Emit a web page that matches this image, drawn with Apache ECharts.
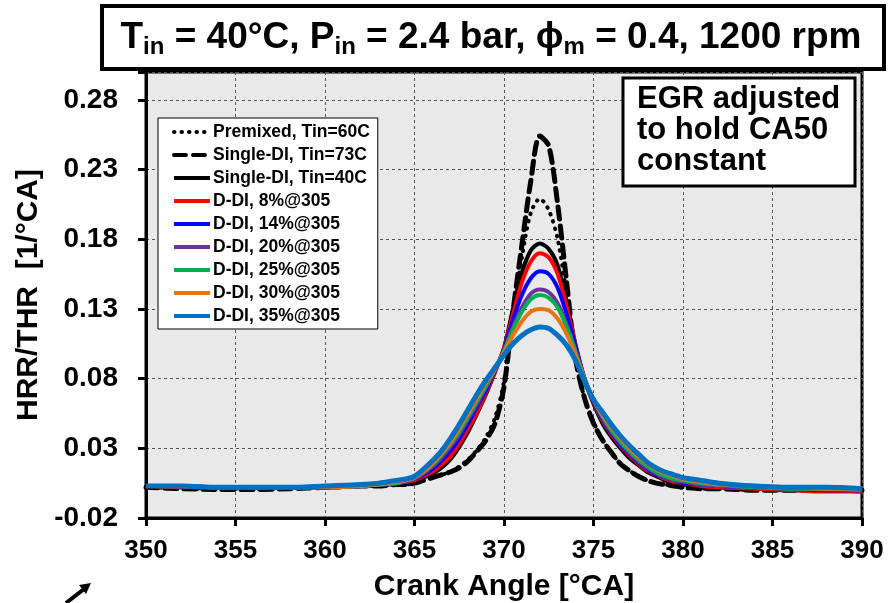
<!DOCTYPE html>
<html>
<head>
<meta charset="utf-8">
<script src="https://cdn.jsdelivr.net/npm/echarts@6/dist/echarts.min.js"></script>
<style>
html, body { margin: 0; padding: 0; background: #fff; }
#chart { width: 896px; height: 603px; }
</style>
</head>
<body>
<div id="chart"></div>
<script>
// crank angle samples (deg CA)
const crankAngle = [350, 352, 354, 356, 358, 360, 362, 363, 364,
	364.5, 365, 365.5, 366, 366.5, 367, 367.5, 368, 368.5, 369, 369.5, 370, 370.5, 371, 371.5, 372,
	372.5, 373, 373.5, 374, 374.5, 375, 375.5, 376, 376.5, 377, 377.5, 378, 378.5, 379, 379.5, 380,
	381, 382, 384, 386, 388, 390]

// HRR/THR [1/CA]
const premixed60 = [0.002, 0.0015, 0.001, 0.001, 0.0015, 0.002, 0.003, 0.003, 0.004,
	0.004, 0.005, 0.007, 0.009, 0.011, 0.013, 0.017, 0.022, 0.029, 0.038, 0.052, 0.078, 0.124, 0.167, 0.199, 0.209,
	0.201, 0.180, 0.140, 0.094, 0.066, 0.049, 0.036, 0.027, 0.019, 0.014, 0.010, 0.007, 0.005, 0.004, 0.003, 0.002,
	0.001, 0.001, 0.0, 0.0, 0.0, 0.0]
const singleDI73 = [0.002, 0.001, 0.0005, 0.0005, 0.001, 0.002, 0.003, 0.003, 0.004,
	0.004, 0.005, 0.007, 0.009, 0.011, 0.013, 0.016, 0.021, 0.028, 0.036, 0.048, 0.074, 0.128, 0.176, 0.222, 0.254,
	0.247, 0.205, 0.149, 0.094, 0.066, 0.048, 0.036, 0.027, 0.019, 0.014, 0.010, 0.007, 0.005, 0.004, 0.003, 0.002,
	0.001, 0.001, 0.0, 0.0, 0.0, 0.0]
const singleDI40 = [0.003, 0.002, 0.002, 0.002, 0.002, 0.002, 0.003, 0.004, 0.004,
	0.005, 0.007, 0.009, 0.012, 0.016, 0.022, 0.031, 0.042, 0.055, 0.069, 0.085, 0.102, 0.130, 0.156, 0.172, 0.177,
	0.173, 0.161, 0.135, 0.104, 0.079, 0.062, 0.048, 0.038, 0.030, 0.023, 0.018, 0.013, 0.010, 0.007, 0.005, 0.004,
	0.003, 0.002, 0.001, 0.0, 0.0, -0.001]
const ddi8 = [0.003, 0.002, 0.002, 0.002, 0.002, 0.002, 0.003, 0.004, 0.005,
	0.006, 0.007, 0.010, 0.013, 0.018, 0.024, 0.033, 0.044, 0.056, 0.070, 0.085, 0.102, 0.126, 0.149, 0.164, 0.170,
	0.167, 0.155, 0.132, 0.104, 0.080, 0.063, 0.050, 0.040, 0.032, 0.025, 0.019, 0.014, 0.011, 0.008, 0.006, 0.005,
	0.003, 0.002, 0.001, 0.0, -0.001, -0.001]
const ddi14 = [0.003, 0.003, 0.002, 0.002, 0.002, 0.002, 0.003, 0.004, 0.005,
	0.006, 0.008, 0.011, 0.015, 0.021, 0.028, 0.037, 0.048, 0.060, 0.072, 0.086, 0.101, 0.122, 0.140, 0.152, 0.157,
	0.155, 0.145, 0.126, 0.103, 0.080, 0.064, 0.051, 0.041, 0.033, 0.026, 0.020, 0.015, 0.011, 0.009, 0.007, 0.005,
	0.004, 0.003, 0.002, 0.001, 0.0, 0.0]
const ddi20 = [0.003, 0.003, 0.002, 0.002, 0.002, 0.002, 0.003, 0.004, 0.005,
	0.006, 0.008, 0.012, 0.017, 0.023, 0.031, 0.040, 0.051, 0.062, 0.074, 0.086, 0.100, 0.117, 0.131, 0.141, 0.144,
	0.142, 0.134, 0.119, 0.100, 0.080, 0.065, 0.052, 0.042, 0.034, 0.027, 0.021, 0.016, 0.012, 0.009, 0.007, 0.006,
	0.004, 0.003, 0.002, 0.001, 0.0005, 0.0]
const ddi25 = [0.003, 0.003, 0.002, 0.002, 0.002, 0.002, 0.003, 0.004, 0.005,
	0.007, 0.009, 0.013, 0.018, 0.025, 0.033, 0.042, 0.053, 0.064, 0.075, 0.087, 0.100, 0.115, 0.128, 0.137, 0.140,
	0.138, 0.131, 0.117, 0.099, 0.080, 0.065, 0.053, 0.043, 0.035, 0.028, 0.022, 0.017, 0.013, 0.010, 0.008, 0.007,
	0.005, 0.004, 0.002, 0.001, 0.001, 0.0]
const ddi30 = [0.003, 0.003, 0.002, 0.002, 0.002, 0.002, 0.003, 0.004, 0.006,
	0.007, 0.009, 0.013, 0.019, 0.026, 0.034, 0.044, 0.055, 0.066, 0.077, 0.087, 0.099, 0.111, 0.121, 0.128, 0.130,
	0.129, 0.123, 0.112, 0.097, 0.079, 0.065, 0.054, 0.045, 0.037, 0.030, 0.024, 0.019, 0.015, 0.012, 0.010, 0.008,
	0.006, 0.004, 0.003, 0.002, 0.001, 0.001]
const ddi35 = [0.003, 0.003, 0.002, 0.002, 0.002, 0.003, 0.004, 0.005, 0.007,
	0.008, 0.010, 0.015, 0.021, 0.028, 0.037, 0.047, 0.058, 0.069, 0.079, 0.088, 0.097, 0.105, 0.111, 0.115, 0.117,
	0.116, 0.111, 0.104, 0.093, 0.078, 0.065, 0.056, 0.047, 0.039, 0.032, 0.026, 0.020, 0.016, 0.013, 0.011, 0.009,
	0.007, 0.005, 0.003, 0.002, 0.002, 0.001]

const seriesNames = ['Premixed, Tin=60C', 'Single-DI, Tin=73C', 'Single-DI, Tin=40C',
	'D-DI, 8%@305', 'D-DI, 14%@305', 'D-DI, 20%@305', 'D-DI, 25%@305', 'D-DI, 30%@305', 'D-DI, 35%@305']

// y axis runs -0.02 .. 0.30 with labels every 0.05 from -0.02,
// so values are plotted shifted by +0.02 to keep the ticks on the gridlines
const Y_SHIFT = 0.02

const FONT = "'Liberation Sans', Arial, sans-serif"

function makeLine(name, values, color, width, type, cap) {
	return {
		name: name,
		type: 'line',
		data: crankAngle.map((x, i) => [x, values[i] + Y_SHIFT]),
		smooth: 0.3,
		symbol: 'none',
		showSymbol: false,
		lineStyle: { color: color, width: width, type: type || 'solid', cap: cap || 'butt' },
		itemStyle: { color: color },
		animation: false
	}
}

const chart = echarts.init(document.getElementById('chart'))

chart.setOption({
	animation: false,
	grid: {
		left: 146, right: 34, top: 72, bottom: 85,
		outerBoundsMode: 'none',
		containLabel: false,
		show: true,
		backgroundColor: '#e9e9e9',
		borderColor: '#000',
		borderWidth: 3
	},
	xAxis: {
		type: 'value',
		min: 350, max: 390, interval: 5,
		name: 'Crank Angle [°CA]',
		nameLocation: 'middle',
		nameGap: 54,
		nameTextStyle: { fontSize: 30, fontWeight: 'bold', color: '#000', fontFamily: FONT },
		axisLine: { lineStyle: { color: '#000', width: 3 } },
		axisTick: { inside: false, length: 8, lineStyle: { color: '#000', width: 3 } },
		axisLabel: { fontSize: 26, fontWeight: 'bold', color: '#000', margin: 20, fontFamily: FONT },
		splitLine: { show: true, lineStyle: { color: '#555', width: 1, type: [3, 3] } }
	},
	yAxis: {
		type: 'value',
		min: 0, max: 0.32, interval: 0.05,
		name: 'HRR/THR  [1/°CA]',
		nameLocation: 'middle',
		nameGap: 89,
		nameRotate: 90,
		nameTextStyle: { fontSize: 30, fontWeight: 'bold', color: '#000', fontFamily: FONT },
		axisLine: { show: true, lineStyle: { color: '#000', width: 3 } },
		axisTick: { show: true, inside: false, length: 8, lineStyle: { color: '#000', width: 3 } },
		axisLabel: {
			fontSize: 28, fontWeight: 'bold', color: '#000', margin: 28, fontFamily: FONT,
			formatter: v => v > 0.305 ? '' : (v - Y_SHIFT).toFixed(2)
		},
		splitLine: { show: true, lineStyle: { color: '#555', width: 1, type: [3, 3] } }
	},
	legend: {
		orient: 'vertical',
		left: 158, top: 118,
		backgroundColor: '#fff',
		borderColor: '#000',
		borderWidth: 1,
		padding: [5, 8, 4, 14],
		itemGap: 5,
		itemWidth: 36,
		itemHeight: 16,
		itemStyle: { opacity: 0 },
		lineStyle: { width: 4 },
		textStyle: { fontSize: 17.5, fontWeight: 'bold', color: '#000', fontFamily: FONT, padding: [0, 0, 0, -2] },
		data: seriesNames
	},
	series: [
		makeLine(seriesNames[0], premixed60, '#000', 4, [0.5, 7], 'round'),
		makeLine(seriesNames[1], singleDI73, '#000', 5, [12, 7], 'round'),
		makeLine(seriesNames[2], singleDI40, '#000', 4),
		makeLine(seriesNames[3], ddi8, '#ff0000', 4),
		makeLine(seriesNames[4], ddi14, '#0000ff', 4),
		makeLine(seriesNames[5], ddi20, '#7030a0', 4),
		makeLine(seriesNames[6], ddi25, '#00b050', 4),
		makeLine(seriesNames[7], ddi30, '#e8750f', 4),
		makeLine(seriesNames[8], ddi35, '#0070c0', 5)
	],
	graphic: [
		{
			type: 'rect', z: 100,
			shape: { x: 102, y: 6, width: 782, height: 63 },
			style: { fill: '#fff', stroke: '#000', lineWidth: 4 }
		},
		{
			type: 'text', z: 101,
			x: 491, y: 38,
			style: {
				text: '{m|T}{s|in}{m| = 40°C, P}{s|in}{m| = 2.4 bar, ϕ}{s|m}{m| = 0.4, 1200 rpm}',
				align: 'center',
				verticalAlign: 'middle',
				fill: '#000',
				rich: {
					m: { fontSize: 37, fontWeight: 'bold', fontFamily: FONT, lineHeight: 42, fill: '#000' },
					s: { fontSize: 24, fontWeight: 'bold', fontFamily: FONT, verticalAlign: 'bottom', fill: '#000' }
				}
			}
		},
		{
			type: 'rect', z: 100,
			shape: { x: 623, y: 78, width: 232, height: 108 },
			style: { fill: '#fff', stroke: '#000', lineWidth: 3 }
		},
		{
			type: 'text', z: 101,
			x: 637, y: 84,
			style: {
				text: 'EGR adjusted\nto hold CA50\nconstant',
				fontSize: 31, fontWeight: 'bold', fontFamily: FONT,
				lineHeight: 31,
				fill: '#000'
			}
		},
		{
			type: 'polyline', z: 100,
			shape: { points: [[66, 603], [84, 589]] },
			style: { stroke: '#000', lineWidth: 4 }
		},
		{
			type: 'polygon', z: 100,
			shape: { points: [[91, 583], [86, 594], [79, 585]] },
			style: { fill: '#000' }
		}
	]
})
</script>
</body>
</html>
